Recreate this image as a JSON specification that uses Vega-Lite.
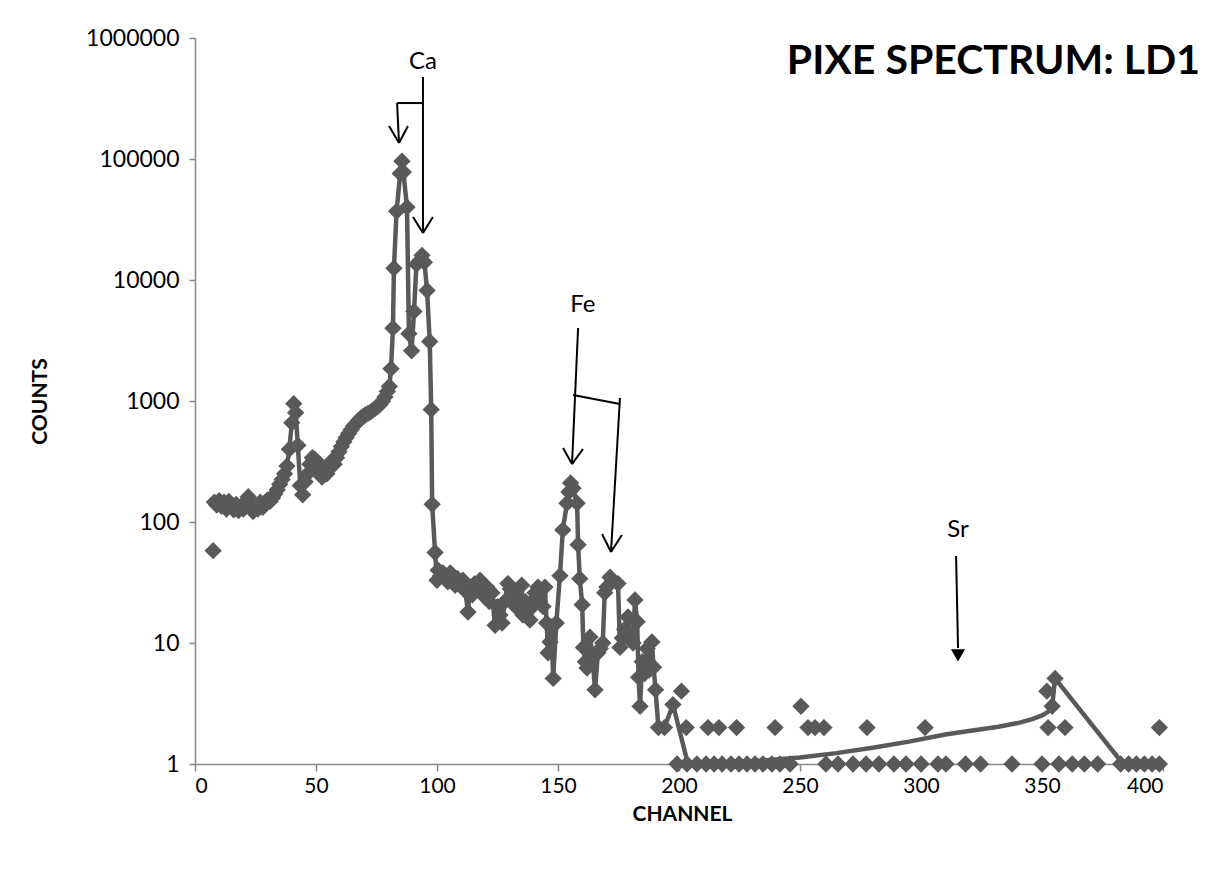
{
  "$schema": "https://vega.github.io/schema/vega-lite/v6.json",
  "width": 968,
  "height": 726,
  "autosize": {"type": "none"},
  "padding": {"left": 195, "top": 38, "right": 47, "bottom": 126},
  "background": "white",
  "config": {
    "font": "Lato",
    "view": {"stroke": null},
    "axis": {"grid": false, "domainColor": "#868686", "tickColor": "#868686", "domainWidth": 1.5, "tickWidth": 1.5, "labelColor": "#000000", "titleColor": "#000000", "labelFontSize": 23, "titleFontSize": 21, "titleFontWeight": "bold", "labelFont": "Lato", "titleFont": "Lato"}
  },
  "datasets": {
    "pts": [
      {"c":7.5,"n":58,"k":"p"},
      {"c":8,"n":146,"k":"b"},{"c":9,"n":138,"k":"b"},{"c":10,"n":150,"k":"b"},{"c":11,"n":135,"k":"b"},{"c":12,"n":146,"k":"b"},{"c":13,"n":128,"k":"b"},{"c":14,"n":148,"k":"b"},{"c":15,"n":136,"k":"b"},{"c":16,"n":126,"k":"b"},{"c":17,"n":140,"k":"b"},{"c":18,"n":124,"k":"b"},{"c":19,"n":133,"k":"b"},{"c":20,"n":128,"k":"b"},{"c":21,"n":148,"k":"b"},{"c":22,"n":162,"k":"b"},{"c":23,"n":140,"k":"b"},{"c":24,"n":122,"k":"b"},{"c":25,"n":134,"k":"b"},{"c":26,"n":128,"k":"b"},{"c":27,"n":146,"k":"b"},{"c":28,"n":132,"k":"b"},{"c":29,"n":145,"k":"b"},{"c":30,"n":152,"k":"b"},{"c":31,"n":148,"k":"b"},{"c":32,"n":158,"k":"b"},{"c":33,"n":170,"k":"b"},{"c":34,"n":185,"k":"b"},{"c":35,"n":205,"k":"b"},{"c":36,"n":225,"k":"b"},{"c":37,"n":250,"k":"b"},{"c":38,"n":290,"k":"b"},{"c":39,"n":400,"k":"b"},{"c":40,"n":660,"k":"b"},{"c":40.8,"n":950,"k":"b"},{"c":41.6,"n":800,"k":"b"},{"c":42.5,"n":430,"k":"b"},{"c":43.5,"n":200,"k":"b"},{"c":44.5,"n":168,"k":"b"},{"c":45.5,"n":215,"k":"b"},{"c":46.5,"n":250,"k":"b"},{"c":47.5,"n":300,"k":"b"},{"c":48.5,"n":340,"k":"b"},{"c":49.5,"n":330,"k":"b"},{"c":50.5,"n":260,"k":"b"},{"c":51.5,"n":300,"k":"b"},{"c":52.5,"n":235,"k":"b"},{"c":53.5,"n":280,"k":"b"},{"c":54.5,"n":250,"k":"b"},{"c":55.5,"n":300,"k":"b"},{"c":56.5,"n":320,"k":"b"},{"c":57.5,"n":300,"k":"b"},{"c":58.5,"n":340,"k":"b"},{"c":59.5,"n":380,"k":"b"},{"c":60.5,"n":420,"k":"b"},{"c":61.5,"n":460,"k":"b"},{"c":62.5,"n":500,"k":"b"},{"c":63.5,"n":540,"k":"b"},{"c":64.5,"n":580,"k":"b"},{"c":65.5,"n":620,"k":"b"},{"c":66.5,"n":650,"k":"b"},{"c":67.5,"n":690,"k":"b"},{"c":68.5,"n":720,"k":"b"},{"c":69.5,"n":745,"k":"b"},{"c":70.5,"n":770,"k":"b"},{"c":71.5,"n":790,"k":"b"},{"c":72.5,"n":810,"k":"b"},{"c":73.5,"n":840,"k":"b"},{"c":74.5,"n":870,"k":"b"},{"c":75.5,"n":900,"k":"b"},{"c":76.5,"n":940,"k":"b"},{"c":77.5,"n":1000,"k":"b"},{"c":78.5,"n":1080,"k":"b"},{"c":79.5,"n":1200,"k":"b"},{"c":80.3,"n":1320,"k":"b"},{"c":81,"n":1850,"k":"b"},{"c":81.8,"n":4000,"k":"b"},{"c":82.2,"n":12500,"k":"b"},{"c":83.3,"n":37000,"k":"b"},{"c":84.8,"n":76000,"k":"b"},{"c":85.5,"n":96000,"k":"b"},{"c":86.1,"n":78000,"k":"b"},{"c":87.6,"n":40000,"k":"b"},{"c":88.4,"n":3600,"k":"b"},{"c":89.5,"n":2600,"k":"b"},{"c":90.5,"n":5500,"k":"b"},{"c":91.5,"n":13500,"k":"b"},{"c":93,"n":14500,"k":"b"},{"c":93.8,"n":16000,"k":"b"},{"c":94.8,"n":14000,"k":"b"},{"c":95.9,"n":8200,"k":"b"},{"c":97,"n":3100,"k":"b"},{"c":97.6,"n":850,"k":"b"},{"c":98,"n":140,"k":"b"},{"c":99.2,"n":56,"k":"b"},{"c":100,"n":33,"k":"b"},
      {"c":100.5,"n":40,"k":"b"},{"c":101.5,"n":36,"k":"b"},{"c":102.5,"n":38,"k":"b"},{"c":103.5,"n":34,"k":"b"},{"c":104.5,"n":32,"k":"b"},{"c":105.5,"n":38,"k":"b"},{"c":106.5,"n":35,"k":"b"},{"c":107.5,"n":30,"k":"b"},{"c":108.5,"n":34,"k":"b"},{"c":109.5,"n":31,"k":"b"},{"c":110.7,"n":33,"k":"b"},{"c":111.7,"n":27,"k":"b"},{"c":112.8,"n":18,"k":"b"},{"c":113.6,"n":29,"k":"b"},{"c":114.6,"n":25,"k":"b"},{"c":115.6,"n":31,"k":"b"},{"c":116.6,"n":28,"k":"b"},{"c":117.8,"n":33,"k":"b"},{"c":118.8,"n":27,"k":"b"},{"c":119.8,"n":24,"k":"b"},{"c":120.6,"n":29,"k":"b"},{"c":121.6,"n":22,"k":"b"},{"c":122.7,"n":26,"k":"b"},{"c":124,"n":14,"k":"b"},{"c":125,"n":20,"k":"b"},{"c":126,"n":17,"k":"b"},{"c":126.9,"n":14.6,"k":"b"},{"c":128,"n":22,"k":"b"},{"c":129.3,"n":31,"k":"b"},{"c":130.3,"n":28,"k":"b"},{"c":131.4,"n":26,"k":"b"},{"c":132.5,"n":20,"k":"b"},{"c":133.5,"n":24,"k":"b"},{"c":135,"n":30,"k":"b"},{"c":135.5,"n":17,"k":"b"},{"c":136.5,"n":22,"k":"b"},{"c":137.5,"n":19,"k":"b"},{"c":138.4,"n":15.5,"k":"b"},{"c":139.5,"n":20,"k":"b"},{"c":140.5,"n":26,"k":"b"},{"c":141.3,"n":24,"k":"b"},{"c":141.7,"n":29,"k":"b"},{"c":142.8,"n":27,"k":"b"},{"c":143.8,"n":20,"k":"b"},{"c":144.6,"n":29,"k":"b"},{"c":145.3,"n":14.6,"k":"b"},{"c":145.9,"n":8.3,"k":"b"},{"c":146.7,"n":10.2,"k":"b"},{"c":147.3,"n":13.6,"k":"b"},{"c":148,"n":5.1,"k":"b"},{"c":149.3,"n":14.6,"k":"b"},{"c":150.8,"n":36,"k":"b"},{"c":152,"n":86,"k":"b"},{"c":153.7,"n":143,"k":"b"},{"c":154.5,"n":177,"k":"b"},{"c":155.2,"n":210,"k":"b"},{"c":156.2,"n":190,"k":"b"},{"c":157.9,"n":143,"k":"b"},{"c":158.3,"n":65,"k":"b"},{"c":159,"n":34,"k":"b"},{"c":160,"n":20.7,"k":"b"},{"c":160.5,"n":9.2,"k":"b"},{"c":161.3,"n":7,"k":"b"},{"c":162,"n":6.2,"k":"b"},{"c":163.2,"n":11.2,"k":"b"},{"c":164.2,"n":8,"k":"b"},{"c":165.3,"n":4.1,"k":"b"},{"c":166.5,"n":8.3,"k":"b"},{"c":167.5,"n":9,"k":"b"},{"c":168.5,"n":10,"k":"b"},{"c":169.3,"n":26,"k":"b"},{"c":170.2,"n":29,"k":"b"},{"c":171.5,"n":35,"k":"b"},{"c":172.5,"n":33,"k":"b"},{"c":174.8,"n":31,"k":"b"},{"c":175.6,"n":9.2,"k":"b"},{"c":176.6,"n":11,"k":"b"},{"c":177.5,"n":13,"k":"b"},{"c":178.9,"n":16.4,"k":"b"},{"c":179.8,"n":12.1,"k":"b"},{"c":181,"n":10,"k":"b"},{"c":181.8,"n":22.7,"k":"b"},{"c":182.7,"n":15,"k":"b"},{"c":183.3,"n":5.2,"k":"b"},{"c":183.9,"n":3,"k":"b"},{"c":184.8,"n":7,"k":"b"},{"c":185.8,"n":5.6,"k":"b"},{"c":186.8,"n":9,"k":"b"},{"c":187.8,"n":6,"k":"b"},{"c":188.8,"n":10.2,"k":"b"},{"c":189.5,"n":6.3,"k":"b"},{"c":190.3,"n":4.1,"k":"b"},{"c":191.5,"n":2,"k":"b"},{"c":194,"n":2,"k":"b"},{"c":197.5,"n":3.1,"k":"b"},
      {"c":203.7,"n":1,"k":"l"},{"c":212,"n":1.01,"k":"l"},{"c":222,"n":1.03,"k":"l"},{"c":235,"n":1.07,"k":"l"},{"c":250,"n":1.13,"k":"l"},{"c":265,"n":1.23,"k":"l"},{"c":280,"n":1.36,"k":"l"},{"c":295,"n":1.53,"k":"l"},{"c":310,"n":1.75,"k":"l"},{"c":322,"n":1.9,"k":"l"},{"c":332,"n":2.03,"k":"l"},{"c":340,"n":2.18,"k":"l"},{"c":346,"n":2.35,"k":"l"},{"c":350,"n":2.52,"k":"l"},{"c":352.5,"n":2.7,"k":"l"},
      {"c":354.2,"n":3,"k":"b"},{"c":355.4,"n":5.1,"k":"b"},{"c":383.5,"n":1,"k":"l"},
      {"c":201,"n":4,"k":"p"},{"c":203,"n":2,"k":"p"},{"c":212,"n":2,"k":"p"},{"c":216.5,"n":2,"k":"p"},{"c":223.8,"n":2,"k":"p"},{"c":239.7,"n":2,"k":"p"},{"c":250.4,"n":3,"k":"p"},{"c":253.3,"n":2,"k":"p"},{"c":256.2,"n":2,"k":"p"},{"c":259.9,"n":2,"k":"p"},{"c":277.7,"n":2,"k":"p"},{"c":301.7,"n":2,"k":"p"},{"c":352,"n":4,"k":"p"},{"c":352.5,"n":2,"k":"p"},{"c":359.5,"n":2,"k":"p"},{"c":398.5,"n":2,"k":"p"},
      {"c":199.2,"n":1,"k":"p"},{"c":203.3,"n":1,"k":"p"},{"c":207.4,"n":1,"k":"p"},{"c":211.2,"n":1,"k":"p"},{"c":214.5,"n":1,"k":"p"},{"c":217.8,"n":1,"k":"p"},{"c":221.5,"n":1,"k":"p"},{"c":224.8,"n":1,"k":"p"},{"c":228.1,"n":1,"k":"p"},{"c":231.4,"n":1,"k":"p"},{"c":234.7,"n":1,"k":"p"},{"c":238.4,"n":1,"k":"p"},{"c":241.7,"n":1,"k":"p"},{"c":245.9,"n":1,"k":"p"},{"c":260.7,"n":1,"k":"p"},{"c":265.7,"n":1,"k":"p"},{"c":271.9,"n":1,"k":"p"},{"c":277.3,"n":1,"k":"p"},{"c":282.6,"n":1,"k":"p"},{"c":288.8,"n":1,"k":"p"},{"c":293.8,"n":1,"k":"p"},{"c":300,"n":1,"k":"p"},{"c":307,"n":1,"k":"p"},{"c":310.3,"n":1,"k":"p"},{"c":318.4,"n":1,"k":"p"},{"c":324.6,"n":1,"k":"p"},{"c":337.6,"n":1,"k":"p"},{"c":350,"n":1,"k":"p"},{"c":357,"n":1,"k":"p"},{"c":362.5,"n":1,"k":"p"},{"c":367.5,"n":1,"k":"p"},{"c":373,"n":1,"k":"p"},{"c":382.5,"n":1,"k":"p"},{"c":385.8,"n":1,"k":"p"},{"c":389,"n":1,"k":"p"},{"c":392.3,"n":1,"k":"p"},{"c":395.5,"n":1,"k":"p"},{"c":398.5,"n":1,"k":"p"}
    ],
    "ann": [
      {"c":94.2,"n":476000,"c2":94.2,"n2":24450},
      {"c":90.1,"n":33200,"c2":94.2,"n2":24450},
      {"c":98.3,"n":33200,"c2":94.2,"n2":24450},
      {"c":83.5,"n":290000,"c2":94.2,"n2":290000},
      {"c":83.5,"n":290000,"c2":84.3,"n2":135600},
      {"c":80.2,"n":187500,"c2":84.3,"n2":135600},
      {"c":88.0,"n":187500,"c2":84.3,"n2":135600},
      {"c":158.3,"n":4010,"c2":155.8,"n2":301},
      {"c":152.1,"n":409,"c2":155.8,"n2":301},
      {"c":160.3,"n":401,"c2":155.8,"n2":301},
      {"c":156.2,"n":1122,"c2":175.6,"n2":944},
      {"c":175.6,"n":1059,"c2":171.9,"n2":56.5},
      {"c":168.2,"n":79.6,"c2":171.9,"n2":56.5},
      {"c":176.4,"n":78.1,"c2":171.9,"n2":56.5},
      {"c":314.5,"n":52.4,"c2":315.3,"n2":9.1}
    ],
    "lbl": [
      {"c":94.2,"n":631000,"t":"Ca"},
      {"c":160.3,"n":6210,"t":"Fe"},
      {"c":315.3,"n":85.9,"t":"Sr"}
    ],
    "tip": [{"c":315.3,"n":7.9}],
    "ttl": [{"c":415.3,"n":631000,"t":"PIXE SPECTRUM: LD1"}]
  },
  "encoding": {
    "x": {"field": "c", "type": "quantitative",
      "scale": {"domain": [0, 400], "nice": false, "zero": false},
      "axis": {"values": [0,50,100,150,200,250,300,350,400], "tickSize": 7, "labelPadding": 4, "labelFontSize": 21, "title": "CHANNEL", "titleX": 487, "titleY": 50, "titleBaseline": "middle"}},
    "y": {"field": "n", "type": "quantitative",
      "scale": {"type": "log", "domain": [1, 1000000], "nice": false},
      "axis": {"values": [1,10,100,1000,10000,100000,1000000], "format": "d", "tickSize": 6, "labelPadding": 10, "title": "COUNTS", "titleX": -155, "titleY": 363, "titleBaseline": "middle", "titleAngle": -90}}
  },
  "layer": [
    {"data": {"name": "pts"}, "transform": [{"filter": "datum.k != 'p'"}],
     "mark": {"type": "line", "color": "#595959", "strokeWidth": 4.5, "clip": false}},
    {"data": {"name": "pts"}, "transform": [{"filter": "datum.k != 'l'"}],
     "mark": {"type": "point", "shape": "diamond", "filled": true, "size": 300, "color": "#595959", "opacity": 1}},
    {"data": {"name": "ann"},
     "mark": {"type": "rule", "color": "#000000", "strokeWidth": 2},
     "encoding": {"x2": {"field": "c2"}, "y2": {"field": "n2"}}},
    {"data": {"name": "tip"},
     "mark": {"type": "point", "shape": "triangle-down", "filled": true, "size": 200, "color": "#000000", "opacity": 1}},
    {"data": {"name": "lbl"},
     "mark": {"type": "text", "fontSize": 24, "font": "Lato", "color": "#000000", "align": "center", "baseline": "middle"},
     "encoding": {"text": {"field": "t"}}},
    {"data": {"name": "ttl"},
     "mark": {"type": "text", "fontSize": 41, "font": "Lato", "fontWeight": "bold", "color": "#000000", "align": "right", "baseline": "middle"},
     "encoding": {"text": {"field": "t"}}}
  ]
}
